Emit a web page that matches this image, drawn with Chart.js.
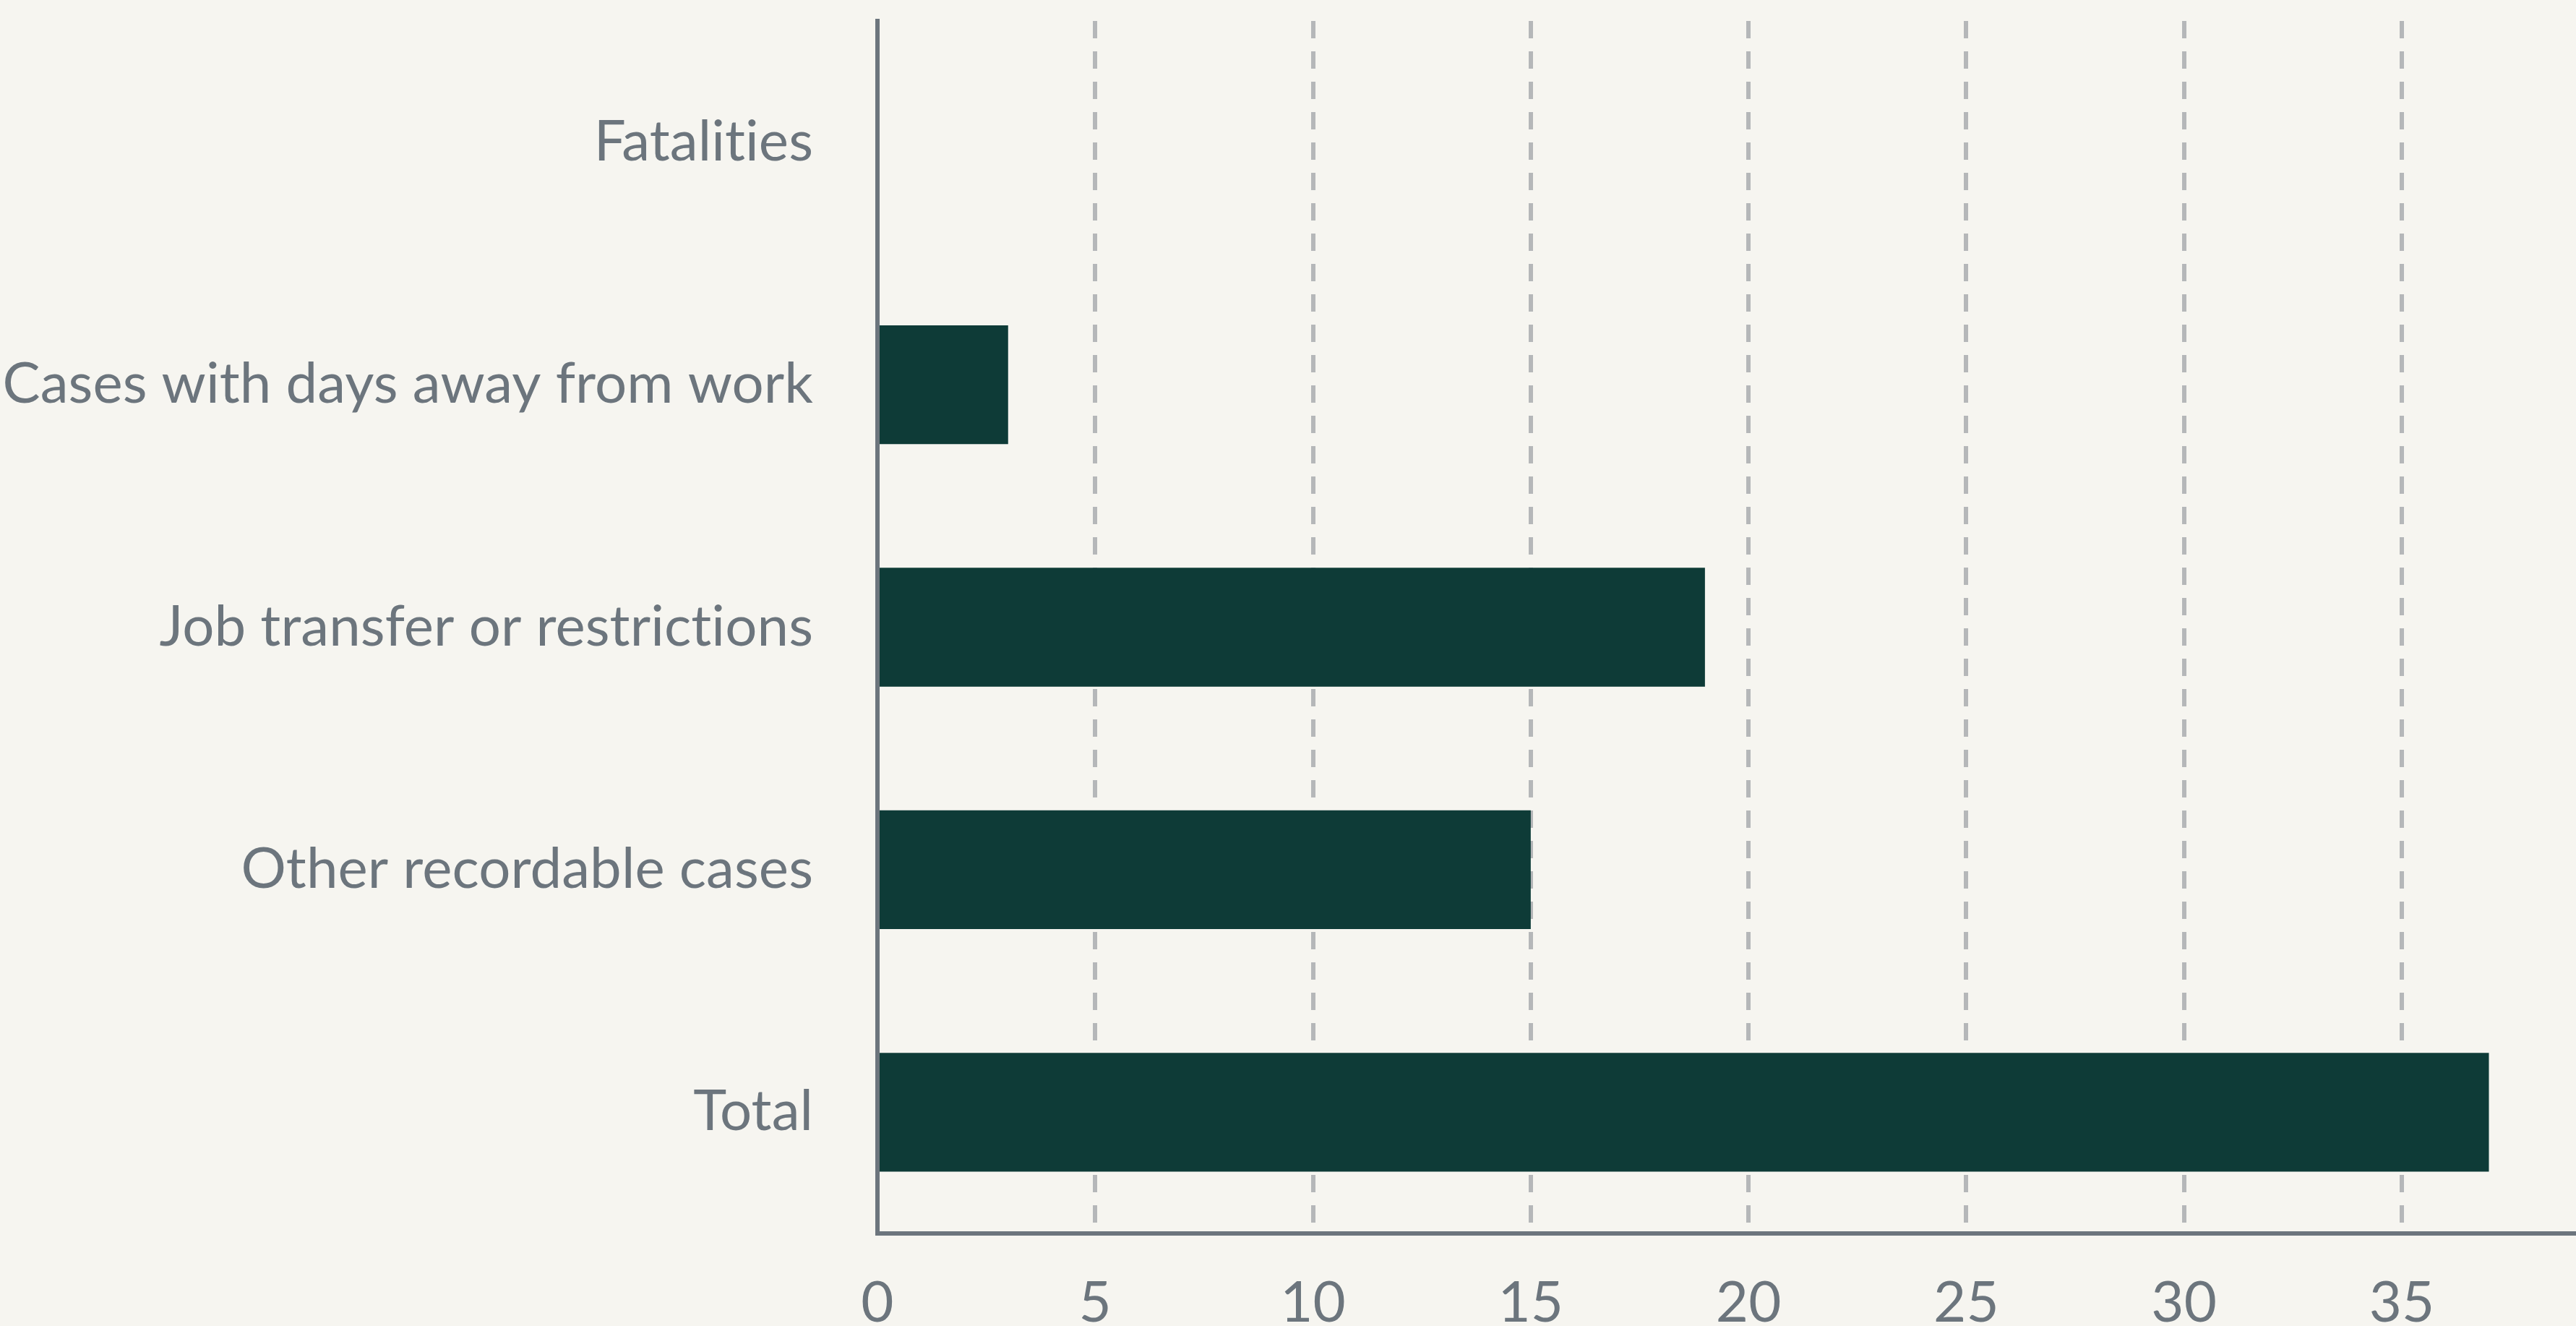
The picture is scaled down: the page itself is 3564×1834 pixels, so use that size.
<!DOCTYPE html>
<html lang="en">
<head>
    <meta charset="UTF-8" />
    <title>Injury Cases</title>
    <script src="https://cdn.jsdelivr.net/npm/chart.js"></script>
    <style>
        html, body { margin: 0; padding: 0; background: #f6f5f0; }
        #wrap { width: 3564px; height: 1834px; }
    </style>
</head>
<body>
    <div id="wrap"><canvas id="casesChart"></canvas></div>

    <script>
        const categories = ['Fatalities', 'Cases with days away from work', 'Job transfer or restrictions', 'Other recordable cases', 'Total'];
        const caseCounts = [0, 3, 19, 15, 37];
        const xTicks = [0, 5, 10, 15, 20, 25, 30, 35];

        const textColor = '#6c757d';
        const axisColor = '#6c757d';
        const gridColor = '#b5b7b9';
        const barColor = '#0e3b37';

        // tiny letter spacing keeps Lato from joining "ti" into a ligature
        const noLigatures = {
            id: 'noLigatures',
            beforeDraw: (chart) => { chart.ctx.letterSpacing = '0.1px'; }
        };

        const ctx = document.getElementById('casesChart').getContext('2d');
        new Chart(ctx, {
            type: 'bar',
            data: {
                labels: categories,
                datasets: [{
                    data: caseCounts,
                    backgroundColor: barColor,
                    borderWidth: 0,
                    categoryPercentage: 1,
                    barPercentage: 0.49
                }]
            },
            options: {
                indexAxis: 'y',
                responsive: true,
                maintainAspectRatio: false,
                animation: false,
                layout: { padding: { top: 29, right: 0, bottom: 0, left: 0 } },
                plugins: {
                    legend: { display: false },
                    tooltip: { enabled: false }
                },
                scales: {
                    x: {
                        min: 0,
                        max: 39,
                        afterBuildTicks: (scale) => {
                            scale.ticks = xTicks.map(v => ({ value: v }));
                        },
                        afterFit: (scale) => {
                            scale.height = 128;
                            scale.paddingRight = 0;
                        },
                        grid: {
                            color: gridColor,
                            lineWidth: 6,
                            drawTicks: false
                        },
                        border: {
                            display: true,
                            color: axisColor,
                            width: 6,
                            dash: [24, 18]
                        },
                        ticks: {
                            color: textColor,
                            padding: 50,
                            font: { family: 'Lato', size: 78 }
                        }
                    },
                    y: {
                        afterFit: (scale) => {
                            scale.width = 1214;
                            scale.paddingTop = 0;
                            scale.paddingBottom = 0;
                        },
                        grid: { display: false, drawTicks: false },
                        border: { display: true, color: axisColor, width: 6 },
                        ticks: {
                            color: textColor,
                            padding: 89,
                            font: { family: 'Lato', size: 78 }
                        }
                    }
                }
            },
            plugins: [noLigatures]
        });
    </script>
</body>
</html>
